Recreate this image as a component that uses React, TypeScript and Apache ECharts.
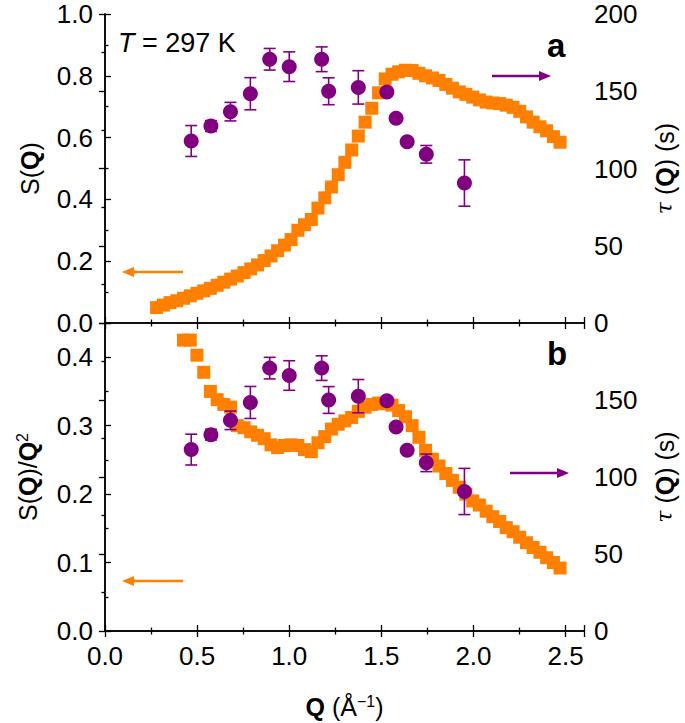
import React, { useEffect, useRef } from "react";
import * as echarts from "echarts";

const ORANGE = "#FF8000";
const PURPLE = "#800080";
const FONT = "Liberation Sans, Arial, Helvetica, sans-serif";

const Q = [
  0.280, 0.317, 0.353, 0.390, 0.426, 0.463, 0.499, 0.536, 0.572, 0.609,
  0.645, 0.682, 0.718, 0.755, 0.791, 0.828, 0.864, 0.901, 0.937, 0.974,
  1.010, 1.047, 1.083, 1.120, 1.156, 1.193, 1.229, 1.266, 1.302, 1.339,
  1.375, 1.412, 1.448, 1.485, 1.521, 1.558, 1.594, 1.631, 1.667, 1.704,
  1.740, 1.777, 1.813, 1.850, 1.886, 1.923, 1.959, 1.996, 2.032, 2.069,
  2.105, 2.142, 2.178, 2.215, 2.251, 2.288, 2.324, 2.361, 2.397, 2.434,
  2.470,
];

const S = [
  0.050, 0.058, 0.066, 0.072, 0.080, 0.088, 0.096, 0.104, 0.112, 0.122,
  0.132, 0.142, 0.152, 0.163, 0.175, 0.188, 0.202, 0.217, 0.234, 0.252,
  0.270, 0.300, 0.318, 0.335, 0.372, 0.405, 0.440, 0.480, 0.520, 0.560,
  0.605, 0.650, 0.695, 0.745, 0.790, 0.805, 0.813, 0.818, 0.817, 0.808,
  0.800, 0.793, 0.785, 0.772, 0.760, 0.748, 0.740, 0.731, 0.722, 0.715,
  0.712, 0.710, 0.705, 0.698, 0.685, 0.667, 0.650, 0.635, 0.622, 0.603,
  0.585,
];

// S(Q)/Q^2 (first points are above the plotted range)
const SQ2 = [
  null, null, null, null, 0.425, 0.425, 0.403, 0.378, 0.350, 0.338,
  0.331, 0.327, 0.300, 0.297, 0.291, 0.286, 0.281, 0.272, 0.268, 0.271,
  0.272, 0.271, 0.265, 0.262, 0.275, 0.284, 0.295, 0.302, 0.307, 0.312,
  0.321, 0.327, 0.331, 0.333, 0.332, 0.330, 0.322, 0.313, 0.300, 0.283,
  0.264, 0.251, 0.241, 0.230, 0.220, 0.210, 0.200, 0.190, 0.184, 0.175,
  0.167, 0.160, 0.151, 0.145, 0.137, 0.129, 0.122, 0.115, 0.107, 0.100,
  0.092,
];

const TAU_Q = [0.468, 0.575, 0.681, 0.789, 0.894, 1.0, 1.176, 1.214, 1.375, 1.53, 1.58, 1.64, 1.744, 1.951];
const TAU = [117.8, 127.5, 136.8, 148.4, 170.7, 165.9, 170.7, 150.0, 152.5, 149.5, 132.5, 117.3, 109.2, 90.6];
const TAU_ERR = [10, 3.5, 6, 10.4, 7, 9.6, 8, 8.7, 10.8, 2.5, 2, 2, 5.7, 15];

const X_TICKS = [0, 0.5, 1.0, 1.5, 2.0, 2.5];

export default function App() {
  const ref = useRef<HTMLDivElement>(null);

  useEffect(() => {
    if (!ref.current) return;
    const chart = echarts.init(ref.current, undefined, { renderer: "svg" });

    const sData = Q.map((q, i) => [q, S[i]]);
    const sq2Data = Q.map((q, i) => [q, SQ2[i]]).filter((d) => d[1] !== null);
    const tauData = TAU_Q.map((q, i) => [q, TAU[i]]);
    const errData = TAU_Q.map((q, i) => [q, TAU[i], TAU_ERR[i]]);

    const errRender = (params: any, api: any) => {
      const x = api.value(0);
      const y = api.value(1);
      const e = api.value(2);
      const p1 = api.coord([x, y + e]);
      const p2 = api.coord([x, y - e]);
      const hw = 6;
      const st = { stroke: PURPLE, lineWidth: 1.6 };
      return {
        type: "group",
        children: [
          { type: "line", shape: { x1: p1[0], y1: p1[1], x2: p2[0], y2: p2[1] }, style: st },
          { type: "line", shape: { x1: p1[0] - hw, y1: p1[1], x2: p1[0] + hw, y2: p1[1] }, style: st },
          { type: "line", shape: { x1: p2[0] - hw, y1: p2[1], x2: p2[0] + hw, y2: p2[1] }, style: st },
        ],
      };
    };

    const axisLine = { show: true, lineStyle: { color: "#000", width: 1.5 } };
    const tick = { show: true, inside: true, length: 6, lineStyle: { color: "#000", width: 1.3 } };
    const minor = { show: true, splitNumber: 2, length: 3.5, lineStyle: { color: "#000", width: 1.3 } };
    const labelStyle = { color: "#000", fontFamily: FONT, fontSize: 26 };
    const nameRich = {
      n: { fontFamily: FONT, fontSize: 25, color: "#000" },
      b: { fontFamily: FONT, fontSize: 25, fontWeight: "bold", color: "#000" },
      t: { fontFamily: "DejaVu Serif, serif", fontSize: 22, fontStyle: "italic", color: "#000" },
      sup: { fontFamily: FONT, fontSize: 16, color: "#000", verticalAlign: "top", padding: [0, 0, 12, 0] },
    };

    const xBase = (grid: number, pos: "top" | "bottom", labels: boolean) => ({
      type: "value",
      gridIndex: grid,
      position: pos,
      min: 0,
      max: 2.6,
      interval: 0.5,
      axisLine,
      axisTick: tick,
      minorTick: minor,
      splitLine: { show: false },
      axisLabel: labels
        ? { ...labelStyle, margin: 12, formatter: (v: number) => (X_TICKS.includes(v) ? v.toFixed(1) : "") }
        : { show: false },
    });

    const arrow = (x1: number, x2: number, y: number, color: string) => {
      const dir = x2 > x1 ? 1 : -1;
      const head = 12;
      return [
        {
          type: "line",
          shape: { x1, y1: y, x2: x2 - dir * head, y2: y },
          style: { stroke: color, lineWidth: 2.5 },
        },
        {
          type: "polygon",
          shape: { points: [[x2, y], [x2 - dir * head, y - 5], [x2 - dir * head, y + 5]] },
          style: { fill: color },
        },
      ];
    };

    chart.setOption({
      animation: false,
      backgroundColor: "#fff",
      grid: [
        { left: 105, right: 100, top: 14, height: 309 },
        { left: 105, right: 100, top: 323, height: 308 },
      ],
      xAxis: [
        xBase(0, "bottom", false),
        xBase(0, "top", false),
        {
          ...xBase(1, "bottom", true),
          name: "{b|Q}{n| (Å}{sup|−1}{n|)}",
          nameLocation: "middle",
          nameGap: 62,
          nameTextStyle: { rich: nameRich },
        },
        xBase(1, "top", false),
      ],
      yAxis: [
        {
          type: "value",
          gridIndex: 0,
          position: "left",
          min: 0,
          max: 1,
          interval: 0.2,
          axisLine,
          axisTick: tick,
          minorTick: minor,
          splitLine: { show: false },
          axisLabel: { ...labelStyle, margin: 12, formatter: (v: number) => v.toFixed(1) },
          name: "{n|S(}{b|Q}{n|)}",
          nameLocation: "middle",
          nameRotate: 90,
          nameGap: 63,
          nameTextStyle: { rich: nameRich },
        },
        {
          type: "value",
          gridIndex: 0,
          position: "right",
          min: 0,
          max: 200,
          interval: 50,
          axisLine,
          axisTick: tick,
          minorTick: minor,
          splitLine: { show: false },
          axisLabel: { ...labelStyle, margin: 10 },
          name: "{t|τ}{n| (}{b|Q}{n|) (s)}",
          nameLocation: "middle",
          nameRotate: 90,
          nameGap: 68,
          nameTextStyle: { rich: nameRich },
        },
        {
          type: "value",
          gridIndex: 1,
          position: "left",
          min: 0,
          max: 0.45,
          interval: 0.1,
          axisLine,
          axisTick: tick,
          minorTick: minor,
          splitLine: { show: false },
          axisLabel: { ...labelStyle, margin: 12, showMaxLabel: false, formatter: (v: number) => v.toFixed(1) },
          name: "{n|S(}{b|Q}{n|)/}{b|Q}{sup|2}",
          nameLocation: "middle",
          nameRotate: 90,
          nameGap: 63,
          nameTextStyle: { rich: nameRich },
        },
        {
          type: "value",
          gridIndex: 1,
          position: "right",
          min: 0,
          max: 200,
          interval: 50,
          axisLine,
          axisTick: tick,
          minorTick: minor,
          splitLine: { show: false },
          axisLabel: { ...labelStyle, margin: 10, showMaxLabel: false },
          name: "{t|τ}{n| (}{b|Q}{n|) (s)}",
          nameLocation: "middle",
          nameRotate: 90,
          nameGap: 68,
          nameTextStyle: { rich: nameRich },
        },
      ],
      series: [
        {
          type: "scatter",
          xAxisIndex: 0,
          yAxisIndex: 0,
          symbol: "rect",
          symbolSize: 13,
          itemStyle: { color: ORANGE, opacity: 1 },
          data: sData,
          z: 2,
        },
        {
          type: "custom",
          xAxisIndex: 0,
          yAxisIndex: 1,
          renderItem: errRender,
          data: errData,
          z: 3,
        },
        {
          type: "scatter",
          xAxisIndex: 0,
          yAxisIndex: 1,
          symbol: "circle",
          symbolSize: 15,
          itemStyle: { color: PURPLE, opacity: 1 },
          data: tauData,
          z: 4,
        },
        {
          type: "scatter",
          xAxisIndex: 2,
          yAxisIndex: 2,
          symbol: "rect",
          symbolSize: 13,
          itemStyle: { color: ORANGE, opacity: 1 },
          data: sq2Data,
          z: 2,
        },
        {
          type: "custom",
          xAxisIndex: 2,
          yAxisIndex: 3,
          renderItem: errRender,
          data: errData,
          z: 3,
        },
        {
          type: "scatter",
          xAxisIndex: 2,
          yAxisIndex: 3,
          symbol: "circle",
          symbolSize: 15,
          itemStyle: { color: PURPLE, opacity: 1 },
          data: tauData,
          z: 4,
        },
      ],
      graphic: [
        {
          type: "text",
          left: 118,
          top: 29,
          style: {
            text: "{i|T}{n| = 297 K}",
            rich: {
              i: { fontFamily: FONT, fontSize: 27, fontStyle: "italic", fill: "#000" },
              n: { fontFamily: FONT, fontSize: 27, fill: "#000" },
            },
          },
        },
        {
          type: "text",
          left: 547,
          top: 29,
          style: { text: "a", fontFamily: FONT, fontSize: 33, fontWeight: "bold", fill: "#000" },
        },
        {
          type: "text",
          left: 547,
          top: 337,
          style: { text: "b", fontFamily: FONT, fontSize: 33, fontWeight: "bold", fill: "#000" },
        },
        ...arrow(183, 122, 272, ORANGE),
        ...arrow(492, 551, 76, PURPLE),
        ...arrow(510, 569, 473, PURPLE),
        ...arrow(183, 122, 581, ORANGE),
      ],
    });

    return () => chart.dispose();
  }, []);

  return (
    <div
      ref={ref}
      style={{ position: "fixed", left: 0, top: 0, width: 685, height: 723, background: "#fff" }}
    />
  );
}
